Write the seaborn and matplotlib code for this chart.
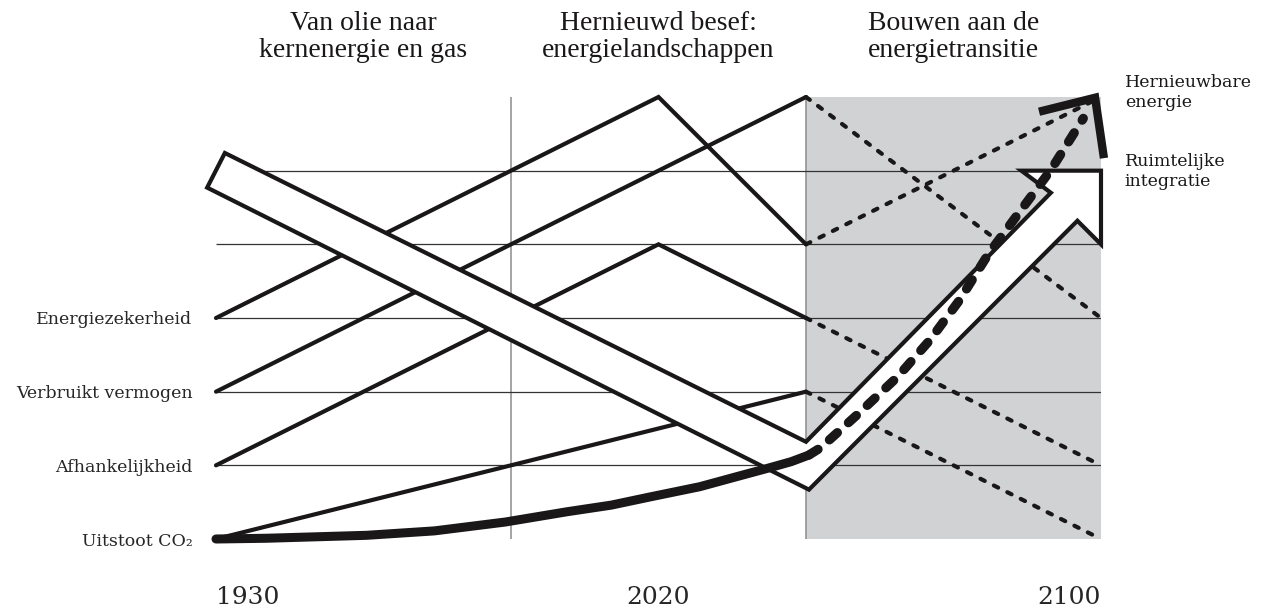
import matplotlib
matplotlib.use("Agg")
import matplotlib.pyplot as plt
import seaborn as sns

# x runs in "stage" units: 0 = 1930, 1 and 2 are the period borders, 3 = 2100
# y runs in levels: 0..3 are the indicator rows, 6 is the top of the frame
period_titles = ["Van olie naar\nkernenergie en gas",
                 "Hernieuwd besef:\nenergielandschappen",
                 "Bouwen aan de\nenergietransitie"]
period_centers = [0.5, 1.5, 2.5]
period_borders = [1, 2]
future_span = [2, 3]
x_end = 3
top_level = 6

year_ticks = [0, 1.5, 3]
year_labels = ["1930", "2020", "2100"]

indicator_names = ["Uitstoot CO₂", "Afhankelijkheid", "Verbruikt vermogen", "Energiezekerheid"]
indicator_levels = [0, 1, 2, 3]
grid_levels = [1, 2, 3, 4, 5]

# past (solid) and future (dashed) course of each indicator
zekerheid_x = [0, 1.5, 2]
zekerheid_y = [3, 6, 4]
zekerheid_future_x = [2, 3]
zekerheid_future_y = [4, 6]

vermogen_x = [0, 2]
vermogen_y = [2, 6]
vermogen_future_x = [2, 3]
vermogen_future_y = [6, 3]

afhankelijk_x = [0, 1.5, 2]
afhankelijk_y = [1, 4, 3]
afhankelijk_future_x = [2, 3]
afhankelijk_future_y = [3, 1]

uitstoot_x = [0, 2]
uitstoot_y = [0, 2]
uitstoot_future_x = [2, 3]
uitstoot_future_y = [2, 0]

# thick curve: renewable energy, growing slowly then fast
hernieuwbaar_x = [0, 0.17, 0.51, 0.74, 0.98, 1.19, 1.34, 1.47, 1.64, 1.75, 1.87, 1.95, 2.01]
hernieuwbaar_y = [0, 0.01, 0.05, 0.11, 0.23, 0.37, 0.46, 0.57, 0.71, 0.83, 0.96, 1.05, 1.14]
hernieuwbaar_future_x = [2.01, 2.05, 2.18, 2.31, 2.42, 2.52, 2.62, 2.83, 2.94]
hernieuwbaar_future_y = [1.14, 1.24, 1.71, 2.20, 2.70, 3.24, 3.88, 5.01, 5.71]
chevron_x = [2.79, 2.98, 3.01]
chevron_y = [5.80, 5.99, 5.17]

# big white arrow (ruimtelijke integratie) outline
arrow_x = [0.03, 2.00, 2.83, 2.73, 3.00, 3.00, 2.92, 2.01, -0.03]
arrow_y = [5.24, 1.32, 4.70, 5.00, 5.00, 4.00, 4.32, 0.67, 4.77]

side_labels = ["Hernieuwbare\nenergie", "Ruimtelijke\nintegratie"]
side_label_y = [5.86, 4.79]
side_label_x = 3.081

SHADE = "#d1d2d4"
INK = "#1a1718"


def draw_line(ax, x, y, lw=3, dashes=None, zorder=2):
    sns.lineplot(x=x, y=y, sort=False, estimator=None, ax=ax,
                 color=INK, lw=lw, zorder=zorder)
    line = ax.lines[-1]
    line.set_clip_on(False)
    line.set_solid_joinstyle("miter")
    line.set_solid_capstyle("round")
    if dashes is not None:
        line.set_linestyle((0, dashes))
        line.set_dash_capstyle("round")
    return line


sns.set_theme(style="white")
plt.rcParams["font.family"] = ["DejaVu Serif"]
plt.rcParams["text.color"] = INK

fig = plt.figure(figsize=(12.74, 6.16), dpi=100)
ax = fig.add_axes([216 / 1274, 77 / 616, 885 / 1274, 442 / 616])
ax.set_xlim(0, x_end)
ax.set_ylim(0, top_level)

ax.axvspan(future_span[0], future_span[1], color=SHADE, lw=0, zorder=0)
ax.vlines(period_borders, 0, top_level, color="#8c8c8c", lw=1.1, zorder=1)
ax.hlines(grid_levels, 0, x_end, color="#333333", lw=0.9, zorder=1)

for xs, ys in [(zekerheid_x, zekerheid_y), (vermogen_x, vermogen_y),
               (afhankelijk_x, afhankelijk_y), (uitstoot_x, uitstoot_y)]:
    draw_line(ax, xs, ys, lw=3)

for xs, ys in [(zekerheid_future_x, zekerheid_future_y),
               (vermogen_future_x, vermogen_future_y),
               (afhankelijk_future_x, afhankelijk_future_y),
               (uitstoot_future_x, uitstoot_future_y)]:
    draw_line(ax, xs, ys, lw=3, dashes=(1.15, 2.45))

ax.fill(arrow_x, arrow_y, facecolor="white", edgecolor=INK, lw=3,
        joinstyle="miter", zorder=3, clip_on=False)

draw_line(ax, hernieuwbaar_x, hernieuwbaar_y, lw=6.5, zorder=4)
draw_line(ax, hernieuwbaar_future_x, hernieuwbaar_future_y, lw=6.7,
          dashes=(1.15, 1.6), zorder=4)
chev = draw_line(ax, chevron_x, chevron_y, lw=6, zorder=5)
chev.set_solid_capstyle("butt")

ax.set_yticks(indicator_levels, indicator_names, fontsize=12.5)
ax.set_xticks(year_ticks, year_labels, fontsize=18)
ax.tick_params(axis="y", length=0, pad=17)
ax.tick_params(axis="x", length=0, pad=34)
xlabels = ax.get_xticklabels()
xlabels[0].set_ha("left")
xlabels[2].set_ha("right")
ax.grid(False)
sns.despine(ax=ax, left=True, bottom=True)

# titles: baseline of the second line sits about 57 px from the top
for cx, title in zip(period_centers, period_titles):
    ax.text(cx, 1.0905, title, transform=ax.get_xaxis_transform(),
            ha="center", va="baseline", fontsize=20,
            family="Liberation Serif", linespacing=1.08)

for ly, label in zip(side_label_y, side_labels):
    ax.text(side_label_x, ly, label, ha="left", va="baseline",
            fontsize=12.5, linespacing=1.25, clip_on=False)

fig.savefig("out.png", dpi=100)
